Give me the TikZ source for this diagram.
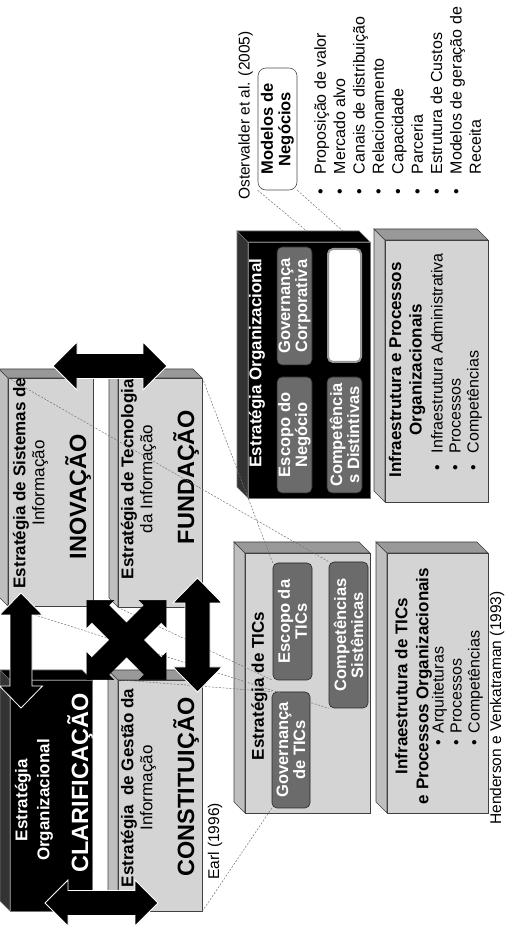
\documentclass[tikz,border=0pt]{standalone}
\usepackage{fontspec}
\setmainfont{Liberation Sans}
\usetikzlibrary{backgrounds}
\tikzstyle{light front} = [draw=black!75, fill=black!17, line width=0.6pt, inner sep=0]
\tikzstyle{light top} = [draw=black!75, fill=black!25, line width=0.6pt]
\tikzstyle{light side} = [draw=black!75, fill=black!40, line width=0.6pt]
\tikzstyle{dark front} = [draw=black!55, fill=black, line width=0.6pt, inner sep=0]
\tikzstyle{dark top} = [draw=black!55, fill=black!80, line width=0.6pt]
\tikzstyle{dark side} = [draw=black!55, fill=black, line width=0.6pt]
\tikzstyle{comp} = [rectangle, rounded corners=5pt, draw=black!85, fill=black!58, text=white, align=center, inner sep=0, line width=0.6pt, font=\fontsize{16.5}{17}\selectfont\bfseries]
\tikzstyle{earlhead} = [align=center, inner sep=0, font=\fontsize{17}{19}\selectfont]
\tikzstyle{earlbig} = [inner sep=0, font=\fontsize{23.5}{26}\selectfont\bfseries]
\tikzstyle{boxtitle} = [align=center, inner sep=0, font=\fontsize{17}{20.5}\selectfont\bfseries]
\tikzstyle{itemlist} = [anchor=west, inner sep=0, font=\fontsize{16}{18}\selectfont]
\tikzstyle{credit} = [anchor=west, inner sep=0, font=\fontsize{15.5}{17}\selectfont]
\tikzstyle{mapline} = [draw=black!55, dash pattern=on 2pt off 1.5pt, line width=0.5pt]
\tikzstyle{arrowfill} = [fill=black, draw=white, line width=0.8pt]
\tikzset{pics/dblarrow/.style n args={4}{code={
  \filldraw[arrowfill] (-#1,0) -- (-#1+#4,#3) -- (-#1+#4,#2) -- (#1-#4,#2) -- (#1-#4,#3) -- (#1,0)
    -- (#1-#4,-#3) -- (#1-#4,-#2) -- (-#1+#4,-#2) -- (-#1+#4,-#3) -- cycle;}}}
% box with depth: name, look, u1, v1, u2, v2, depth
\newcommand{\cubebox}[7]{
  \filldraw[#2 top] (#3,#6) -- ++(#7,#7) -- ({#5+#7},{#6+#7}) -- (#5,#6) -- cycle;
  \filldraw[#2 side] (#5,#6) -- ++(#7,#7) -- ({#5+#7},{#4+#7}) -- (#5,#4) -- cycle;
  \node[#2 front, minimum width={#5-#3}, minimum height={#6-#4}] (#1) at ({(#3+#5)/2},{(#4+#6)/2}) {};
}
\begin{document}
\begin{tikzpicture}[x=1pt,y=1pt]
\useasboundingbox (0,0) rectangle (504,928);
\begin{scope}[shift={(504,0)},rotate=90,transform shape]
    % Earl (1996)
    \cubebox{clarif}{dark}{17}{412}{248}{494}{10}
    \cubebox{constit}{light}{17}{302}{248}{386}{10}
    \cubebox{inov}{light}{322}{411}{550}{496}{9}
    \cubebox{fund}{light}{321}{302}{550}{386}{9}
    \node [earlhead, text=white, font=\fontsize{17}{22}\selectfont\bfseries] (clarifH) at (128,470) {Estratégia\\Organizacional};
    \node [earlbig, text=white] (clarifB) at (145,424) {CLARIFICAÇÃO};
    \node [earlhead] (inovH) at (445,473.5) {\textbf{Estratégia de Sistemas de}\\Informação};
    \node [earlbig] (inovB) at (431,426) {INOVAÇÃO};
    \node [earlhead] (fundH) at (449,365.5) {\textbf{Estratégia de Tecnologia}\\da Informação};
    \node [earlbig] (fundB) at (451,318) {FUNDAÇÃO};
    \node [earlhead] (constitH) at (140,365.5) {\textbf{Estratégia~ de Gestão da}\\Informação};
    \node [earlbig] (constitB) at (141,318) {CONSTITUIÇÃO};
    \node [credit] (earl) at (48,289) {Earl (1996)};

    % Henderson e Venkatraman (1993)
    \cubebox{ticS}{light}{115}{134}{375}{259}{11}
    \cubebox{ticI}{light}{115}{16}{375}{117}{11}
    \node [boxtitle] (ticT) at (242,244.5) {Estratégia de TICs};
    \node [comp, minimum width=116, minimum height=38] (govTIC) at (178,213) {Governança\\de TICs};
    \node [comp, minimum width=117, minimum height=39] (escTIC) at (306.5,211.5) {Escopo da\\TICs};
    \node [comp, minimum width=146, minimum height=39] (compSist) at (293,155.5) {Competências\\Sistêmicas};
    \node [boxtitle, font=\fontsize{17}{21}\selectfont\bfseries] (ticIT) at (242,90.5) {Infraestrutura de TICs\\e Processos Organizacionais};
    \node [itemlist] (ticList) at (182,46) {\begin{tabular}{@{}l@{\hspace{7pt}}l@{}}
        • & Arquiteturas\\ • & Processos\\ • & Competências\end{tabular}};
    \node [credit, font=\fontsize{15.5}{17}\selectfont] (hend) at (103,7) {Henderson e Venkatraman (1993)};

    % Estratégia e infraestrutura organizacional
    \cubebox{orgS}{dark}{430}{134}{686}{256}{11}
    \cubebox{orgI}{light}{426}{16}{688}{119}{11}
    \node [boxtitle, text=white] (orgT) at (565,247) {Estratégia Organizacional};
    \node [comp, minimum width=116, minimum height=35] (escNeg) at (493,209.5) {Escopo do\\Negócio};
    \node [comp, minimum width=118, minimum height=35] (govCorp) at (622,209.5) {Governança\\Corporativa};
    \node [comp, fill=white, draw=black!40, line width=2pt, minimum width=113, minimum height=33] (orgBlank) at (622.5,159.5) {};
    \node [comp, minimum width=116, minimum height=35] (compDist) at (493,159.5) {Competência\\s Distintivas};
    \node [boxtitle, font=\fontsize{17}{20.5}\selectfont\bfseries] (orgIT) at (558,97) {Infraestrutura e Processos\\Organizacionais};
    \node [itemlist] (orgList) at (457,47) {\begin{tabular}{@{}l@{\hspace{12pt}}l@{}}
        • & Infraestrutura Administrativa\\ • & Processos\\ • & Competências\end{tabular}};

    % Ostervalder et al. (2005)
    \node [credit] (ost) at (728,258.5) {Ostervalder et al. (2005)};
    \node [comp, fill=white, text=black, draw=black!70, rounded corners=8pt, minimum width=122, minimum height=39,
        font=\fontsize{16.5}{17.5}\selectfont\bfseries] (modelos) at (799,226.5) {Modelos de\\Negócios};
    \node [itemlist, font=\fontsize{16}{19.4}\selectfont] (ostList) at (733,104.5) {\begin{tabular}{@{}l@{\hspace{15pt}}l@{}}
        • & Proposição de valor\\ • & Mercado alvo\\ • & Canais de distribuição\\ • & Relacionamento\\
        • & Capacidade\\ • & Parceria\\ • & Estrutura de Custos\\ • & Modelos de geração de\\ & Receita\end{tabular}};

    % Draw edges
    \begin{scope}[on background layer]
    \path [mapline] (modelos.north west) -- (orgBlank.north east);
    \path [mapline] (modelos.south west) -- (orgBlank.south east);
    \end{scope}
    \path [mapline] (inov.north west) -- (compSist.north west);
    \path [mapline] (inov.north east) -- (compSist.north east);
    \path [mapline] (fund.south east) -- (escTIC.north east);
    \path [mapline] (fund.north west) -- (escTIC.north west);
    \path [mapline] (constit.south west) -- (govTIC.north west);
    \path [mapline] (constit.north east) -- (govTIC.north east);

    % Arrows between the Earl blocks
    \pic (arrCI) at (277.5,483) {dblarrow={57.5}{11}{21.5}{22}};
    \pic (arrCF) at (293,306.5) {dblarrow={57}{12.5}{24.5}{25}};
    \pic [rotate=90] (arrCC) at (25,402.5) {dblarrow={56.5}{12.5}{23}{23}};
    \pic [rotate=90] (arrIF) at (562,394) {dblarrow={57}{12.5}{24}{24}};
    \pic [rotate=45, arrowfill/.style={fill=black}] (crossA) at (288,377.5) {dblarrow={56}{12}{19}{19}};
    \pic [rotate=-45, arrowfill/.style={fill=black}] (crossB) at (288,377.5) {dblarrow={56}{12}{19}{19}};
\end{scope}
\end{tikzpicture}
\end{document}
